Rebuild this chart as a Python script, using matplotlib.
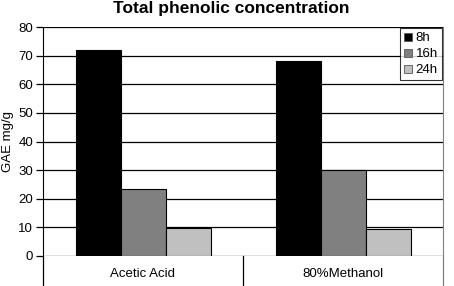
import matplotlib
matplotlib.use("Agg")
import matplotlib.pyplot as plt
import numpy as np

plt.rcParams['font.family'] = ['Liberation Sans', 'DejaVu Sans']

categories = ["Acetic Acid", "80%Methanol"]
series = ["8h", "16h", "24h"]
values = {
    "8h": [72.0, 68.0],
    "16h": [23.3, 30.0],
    "24h": [9.8, 9.5],
}
colors = ["#000000", "#808080", "#c0c0c0"]
yticks = [0, 10, 20, 30, 40, 50, 60, 70, 80]

fig = plt.figure(figsize=(4.54, 2.86), dpi=100)
ax = fig.add_axes([43/454, 30/286, 400/454, 229/286])

x = np.arange(len(categories))
w = 0.225
for i, s in enumerate(series):
    ax.bar(x + (i - 1) * w, values[s], width=w, color=colors[i],
           edgecolor="black", linewidth=0.8, label=s, zorder=3)

ax.set_xlim(-0.5, 1.5)
ax.set_ylim(0, 80)
ax.set_yticks(yticks)
ax.yaxis.grid(True, color="black", linewidth=0.9, zorder=0)
ax.set_axisbelow(True)
ax.set_xticks([])
for s in ["top", "bottom"]:
    ax.spines[s].set_visible(False)
ax.spines["left"].set_color("black")
ax.spines["right"].set_color("#808080")
ax.tick_params(axis="y", labelsize=9.5, length=5, width=0.9, pad=2)

for xs in [-0.5, 0.5, 1.5]:
    ax.plot([xs, xs], [0, -0.135], transform=ax.get_xaxis_transform(),
            color="black" if xs != 1.5 else "#808080", linewidth=0.9, clip_on=False)
for xi, c in zip(x, categories):
    ax.text(xi, -0.08, c, transform=ax.get_xaxis_transform(), ha="center",
            va="center", fontsize=9.5)

ax.set_ylabel("GAE mg/g", fontsize=9.5, labelpad=3)
fig.text(231/454, 1 - 8/286, "Total phenolic concentration", ha="center",
         va="center", fontsize=12.5, fontweight="bold")

leg = ax.legend(loc="upper right", fontsize=9.5, frameon=True, fancybox=False,
                edgecolor="black", handlelength=0.55, handleheight=0.55,
                handletextpad=0.3, borderpad=0.3, labelspacing=0.3,
                borderaxespad=0.1)
leg.get_frame().set_linewidth(0.8)
for h in leg.legend_handles:
    h.set_edgecolor("#555555")
    h.set_linewidth(0.6)

fig.savefig("out.png", dpi=100)
